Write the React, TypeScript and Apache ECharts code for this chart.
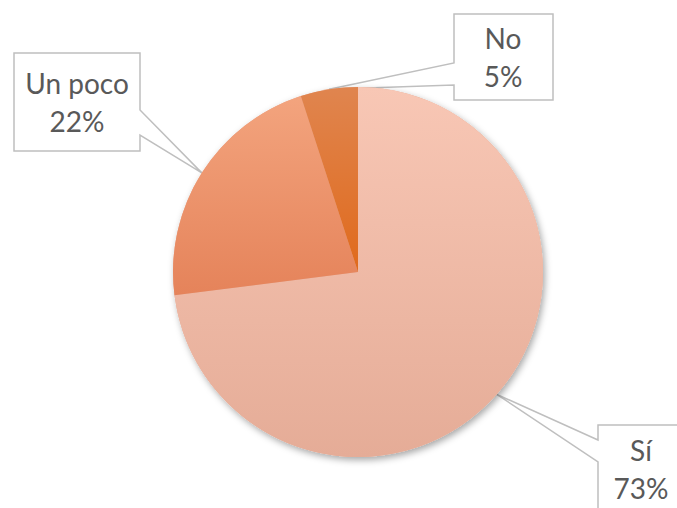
import React, { useEffect, useRef } from "react";
import * as echarts from "echarts";

const categories = ["Sí", "Un poco", "No"];
const values = [73, 22, 5];

const topColors = ["#F8C7B5", "#F3A47E", "#E0854F"];
const bottomColors = ["#E5AC97", "#E5835A", "#E06A1C"];

const CENTER = [358, 272];
const RADIUS = 185;

// callout boxes: [x0, y0, x1, y1], wedge side and wedge y-range on that side
const BOXES = [
  { rect: [598, 425, 700, 530], side: "left", wy: [440, 462], text: [641, 469] },
  { rect: [14, 53, 140, 151], side: "right", wy: [110, 135], text: [77, 102] },
  { rect: [454, 14, 553, 100], side: "left", wy: [63, 85], text: [503, 57] },
];

export default function App() {
  const ref = useRef<HTMLDivElement>(null);
  useEffect(() => {
    document.body.style.margin = "0";
    const chart = echarts.init(ref.current!, null, { renderer: "svg" });
    const total = values.reduce((a, b) => a + b, 0);
    let cum = 0;
    const tips = values.map((v) => {
      const mid = ((cum + v / 2) / total) * Math.PI * 2;
      cum += v;
      return [CENTER[0] + RADIUS * Math.sin(mid), CENTER[1] - RADIUS * Math.cos(mid)];
    });
    const graphics = BOXES.map((b, i) => {
      const [x0, y0, x1, y1] = b.rect;
      const t = tips[i];
      let pts: number[][];
      if (b.side === "left") {
        pts = [[x0, y0], [x1, y0], [x1, y1], [x0, y1], [x0, b.wy[1]], t, [x0, b.wy[0]]];
      } else {
        pts = [[x0, y0], [x1, y0], [x1, b.wy[0]], t, [x1, b.wy[1]], [x1, y1], [x0, y1]];
      }
      return {
        type: "polygon",
        z: 0,
        shape: { points: pts },
        style: { fill: "#FFFFFF", stroke: "#BFBFBF", lineWidth: 1.5 },
      };
    });
    chart.setOption({
      animation: false,
      backgroundColor: "#FFFFFF",
      graphic: graphics,
      series: [
        {
          type: "pie",
          z: 1,
          silent: true,
          center: CENTER,
          radius: RADIUS,
          label: { show: false },
          labelLine: { show: false },
          itemStyle: {
            color: "#E5AC97",
            shadowBlur: 7,
            shadowOffsetX: 2,
            shadowOffsetY: 3,
            shadowColor: "rgba(0,0,0,0.35)",
          },
          data: [{ value: 1, name: "" }],
        },
        {
          type: "pie",
          z: 2,
          center: CENTER,
          radius: RADIUS,
          startAngle: 90,
          clockwise: true,
          data: categories.map((c, i) => ({
            name: c,
            value: values[i],
            itemStyle: {
              color: new echarts.graphic.LinearGradient(0, 0, 0, 1, [
                { offset: 0, color: topColors[i] },
                { offset: 1, color: bottomColors[i] },
              ]),
            },
          })),
          label: {
            show: true,
            formatter: (p: any) => `${p.name}\n${Math.round(p.percent)}%`,
            fontFamily: "Lato",
            fontSize: 28,
            lineHeight: 38,
            color: "#595959",
            align: "center",
          },
          labelLine: { show: false },
          labelLayout: (p: any) => {
            const b = BOXES[p.dataIndex];
            return {
              x: b.text[0],
              y: b.text[1],
              align: "center",
              verticalAlign: "middle",
            };
          },
        },
      ],
    });
    return () => chart.dispose();
  }, []);
  return <div ref={ref} style={{ width: 677, height: 508 }} />;
}
